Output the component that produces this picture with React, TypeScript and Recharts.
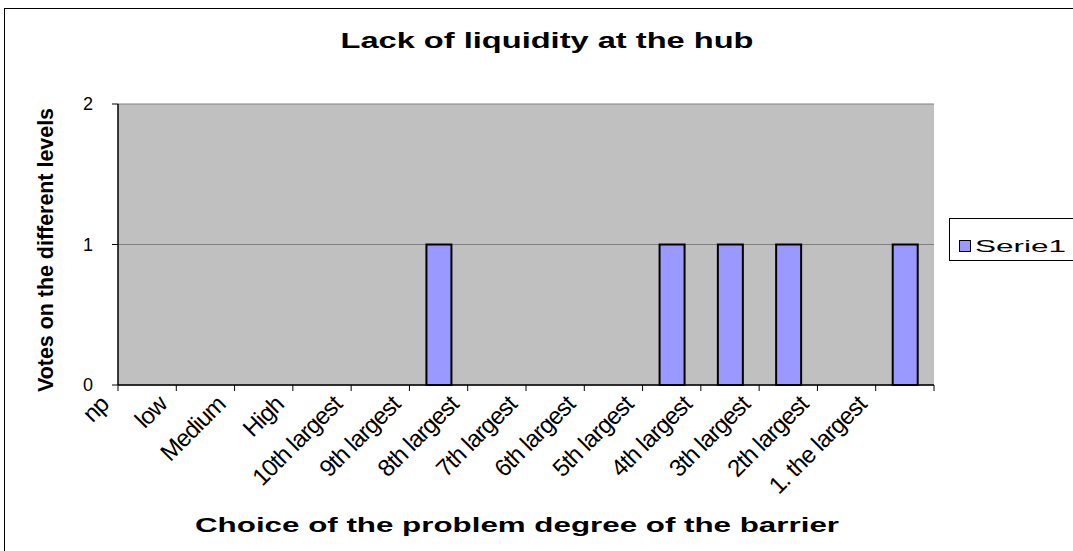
import { BarChart, Bar, XAxis, YAxis, CartesianGrid } from 'recharts';

// categories on the x axis (problem degree) and the votes for each
const categories = [
  'np',
  'low',
  'Medium',
  'High',
  '10th largest',
  '9th largest',
  '8th largest',
  '7th largest',
  '6th largest',
  '5th largest',
  '4th largest',
  '3th largest',
  '2th largest',
  '1. the largest',
];
const votes = [0, 0, 0, 0, 0, 1, 0, 0, 0, 1, 1, 1, 0, 1];
const yTicks = [0, 1, 2];
const seriesName = 'Serie1';

const data = categories.map((name, i) => ({ name, value: votes[i] }));

const W = 1073;
const H = 551;
const PLOT_LEFT = 118;
const PLOT_RIGHT = 934;
const PLOT_TOP = 104;
const PLOT_BOTTOM = 385;
const FONT = '"Liberation Sans", Arial, sans-serif';

function CategoryTick(props: any) {
  const { x, y, payload, index } = props;
  const step = (PLOT_RIGHT - PLOT_LEFT) / categories.length;
  const ex = x - 37;
  const ey = y + 21;
  return (
    <g>
      <line x1={x - step / 2} y1={y} x2={x - step / 2} y2={y + 6} stroke="#000" />
      {index === categories.length - 1 && (
        <line x1={x + step / 2} y1={y} x2={x + step / 2} y2={y + 6} stroke="#000" />
      )}
      <text
        x={ex}
        y={ey}
        transform={`rotate(-45 ${ex} ${ey})`}
        textAnchor="end"
        fontFamily={FONT}
        fontSize={24}
        letterSpacing={-0.9}
        fill="#000"
      >
        {payload.value}
      </text>
    </g>
  );
}

export default function App() {
  return (
    <div style={{ position: 'absolute', left: 0, top: 0, width: W, height: H, background: '#fff', overflow: 'hidden' }}>
      <div
        style={{
          position: 'absolute',
          left: 4,
          top: 8,
          width: W,
          height: H,
          borderTop: '1px solid #000',
          borderLeft: '1px solid #000',
        }}
      />
      <BarChart
        width={W}
        height={H}
        data={data}
        margin={{ top: PLOT_TOP, right: W - PLOT_RIGHT, bottom: H - PLOT_BOTTOM - 30, left: 0 }}
        style={{ position: 'absolute', left: 0, top: 0 }}
      >
        <CartesianGrid fill="#C0C0C0" stroke="#808080" vertical={false} />
        <XAxis
          dataKey="name"
          height={30}
          interval={0}
          tickLine={false}
          tickSize={0}
          tickMargin={0}
          axisLine={{ stroke: '#000', strokeWidth: 1.5 }}
          tick={<CategoryTick />}
        />
        <YAxis
          width={PLOT_LEFT}
          domain={[0, 2]}
          ticks={yTicks}
          allowDecimals={false}
          tickSize={6}
          tickMargin={19}
          axisLine={{ stroke: '#000', strokeWidth: 1.5 }}
          tickLine={{ stroke: '#000' }}
          tick={{ fill: '#000', fontFamily: FONT, fontSize: 18 }}
          label={{
            content: () => (
              <text
                transform="translate(53 250) rotate(-90)"
                textAnchor="middle"
                fontFamily={FONT}
                fontWeight="bold"
                fontSize={22}
                textLength={284}
                lengthAdjust="spacingAndGlyphs"
                fill="#000"
              >
                Votes on the different levels
              </text>
            ),
          }}
        />
        <YAxis
          yAxisId="frame"
          orientation="right"
          width={0}
          domain={[0, 2]}
          tick={false}
          tickLine={false}
          axisLine={{ stroke: '#808080' }}
        />
        <Bar
          dataKey="value"
          name={seriesName}
          fill="#9999FF"
          stroke="#000"
          strokeWidth={2}
          barSize={25}
          isAnimationActive={false}
        />
        <text
          x={547}
          y={48}
          textAnchor="middle"
          fontFamily={FONT}
          fontWeight="bold"
          fontSize={22}
          textLength={413}
          lengthAdjust="spacingAndGlyphs"
          fill="#000"
        >
          Lack of liquidity at the hub
        </text>
        <text
          x={517}
          y={532}
          textAnchor="middle"
          fontFamily={FONT}
          fontWeight="bold"
          fontSize={21}
          textLength={644}
          lengthAdjust="spacingAndGlyphs"
          fill="#000"
        >
          Choice of the problem degree of the barrier
        </text>
        {/* legend box */}
        <g>
          <rect x={949.5} y={218.5} width={130} height={42} fill="#fff" stroke="#000" />
          <rect x={959.5} y={240.5} width={11} height={11} fill="#9999FF" stroke="#000" />
          <text
            x={975}
            y={252}
            fontFamily={FONT}
            fontSize={17}
            textLength={91}
            lengthAdjust="spacingAndGlyphs"
            fill="#000"
          >
            {seriesName}
          </text>
        </g>
      </BarChart>
    </div>
  );
}
